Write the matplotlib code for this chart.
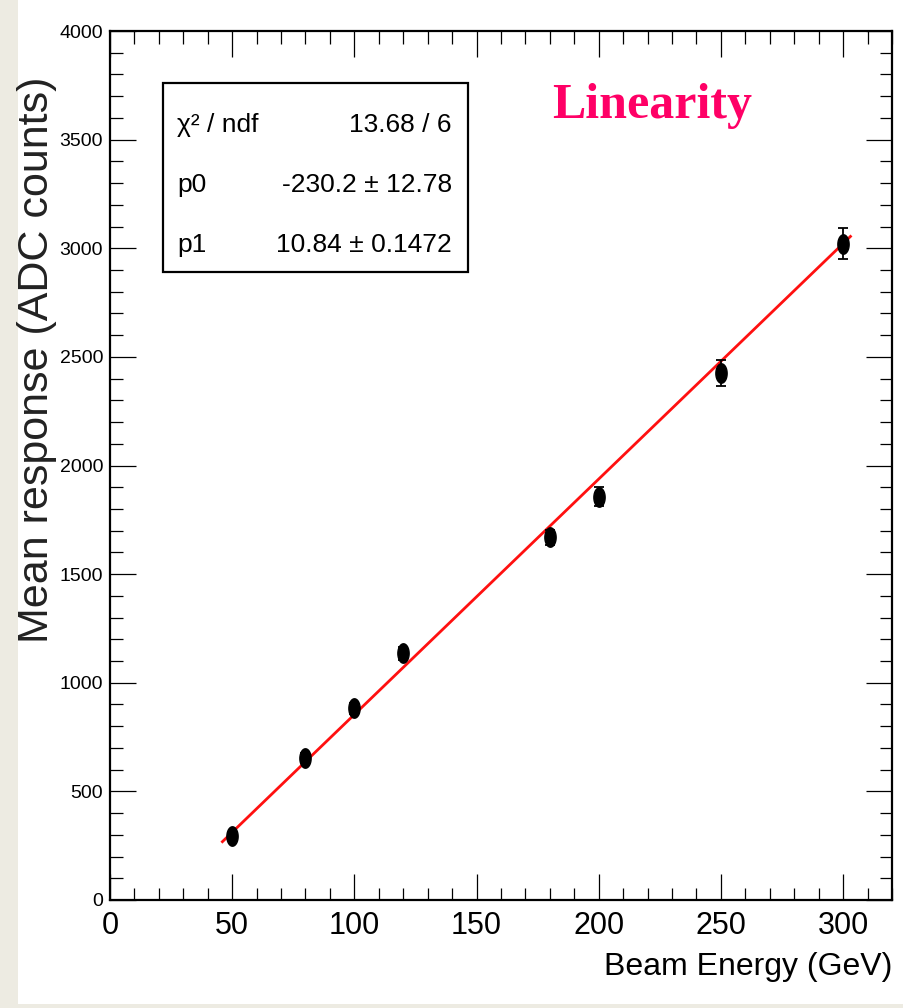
import numpy as np
import matplotlib
matplotlib.use('Agg')
import matplotlib.pyplot as plt
from matplotlib.patches import Rectangle
from matplotlib.path import Path
from matplotlib.ticker import MultipleLocator

# data
energy = [50, 80, 100, 120, 180, 200, 250, 300]
response = [295, 655, 883, 1135, 1669, 1857, 2425, 3021]
response_err = [15, 22, 25, 30, 35, 45, 59, 71]

# fit result shown in the stats box
p0 = -230.2
p1 = 10.84
fit_range = [46, 303]
stats_rows = [('\u03c7\u00b2 / ndf', '13.68 / 6'),
              ('p0', '-230.2 \u00b1 12.78'),
              ('p1', '10.84 \u00b1 0.1472')]

narrow = ['Liberation Sans Narrow', 'Liberation Sans', 'DejaVu Sans']
plt.rcParams['font.family'] = narrow

fig = plt.figure(figsize=(9.04, 10.08), dpi=100, facecolor='#edebe2')
fig.patches.append(Rectangle((18 / 904, 4 / 1008), 1, 1, transform=fig.transFigure,
                             facecolor='white', edgecolor='none', zorder=-10))

ax = fig.add_axes([110 / 904, 108 / 1008, 782 / 904, 869 / 1008])
ax.set_facecolor('white')

# fit line
xf = np.array(fit_range, dtype=float)
ax.plot(xf, p0 + p1 * xf, color='#ff1010', lw=2.0, zorder=2)

# elliptic markers (the original is squeezed sideways)
t = np.linspace(0, 2 * np.pi, 40)
ellipse = Path(np.column_stack([0.58 * np.cos(t), np.sin(t)]), closed=True)
ax.errorbar(energy, response, yerr=response_err, fmt='none', ecolor='black',
            elinewidth=1.3, capsize=3.5, capthick=1.3, zorder=3)
ax.plot(energy, response, ls='none', marker=ellipse, ms=14, color='black', zorder=4)

ax.set_xlim(0, 320)
ax.set_ylim(0, 4000)
ax.xaxis.set_major_locator(MultipleLocator(50))
ax.xaxis.set_minor_locator(MultipleLocator(10))
ax.yaxis.set_major_locator(MultipleLocator(500))
ax.yaxis.set_minor_locator(MultipleLocator(100))
ax.tick_params(which='both', direction='in', top=True, right=True, width=0.9, color='black')
ax.tick_params(which='major', length=19)
ax.tick_params(which='minor', length=9)
ax.tick_params(axis='x', labelsize=22, pad=8)
ax.tick_params(axis='y', labelsize=14, pad=5)
for s in ax.spines.values():
    s.set_linewidth(1.6)

ax.set_xlabel('Beam Energy (GeV)', fontsize=23, loc='right')
ax.xaxis.set_label_coords(1.0, -0.060)
ax.set_ylabel('Mean response (ADC counts)', fontsize=31, family=['Liberation Sans', 'DejaVu Sans'],
              va='center', color='#222222')
ax.yaxis.set_label_coords(-0.0935, 0.622)

# stats box
ax.add_patch(Rectangle((0.0678, 0.7227), 0.39, 0.2175, transform=ax.transAxes,
                       facecolor='white', edgecolor='black', lw=1.6, zorder=5))
for (lab, val), y in zip(stats_rows, [0.8918, 0.8228, 0.7537]):
    ax.text(0.0857, y, lab, transform=ax.transAxes, fontsize=19, ha='left', va='center', zorder=6)
    ax.text(0.4373, y, val, transform=ax.transAxes, fontsize=19, ha='right', va='center', zorder=6)

ax.text(0.6931, 0.900, 'Linearity', transform=ax.transAxes, fontsize=36, fontweight='bold',
        family=['Liberation Serif', 'DejaVu Serif'], color='#ff0066', ha='center', va='baseline')

fig.savefig('out.png', dpi=100, facecolor=fig.get_facecolor())
